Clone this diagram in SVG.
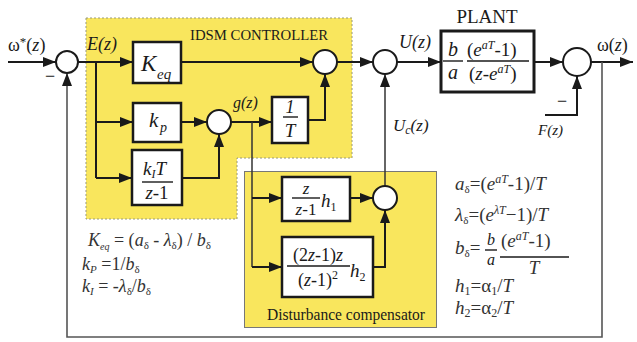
<svg xmlns="http://www.w3.org/2000/svg" width="637" height="342" viewBox="0 0 637 342" font-family="'Liberation Serif', 'DejaVu Serif', serif">
<defs>
<style>
text, tspan {font-family:'Liberation Serif','DejaVu Serif',serif}
text{fill:#1a1a1a}
.it{font-style:italic}
.box{fill:#fff;stroke:#1a1a1a;stroke-width:2.5}
.sum{fill:#fff;stroke:#1a1a1a;stroke-width:2}
.ln{fill:none;stroke:#1a1a1a;stroke-width:2}
.thin{fill:none;stroke:#333;stroke-width:1.5}
.fb{fill:none;stroke:#555;stroke-width:1.6}
.frac{stroke:#1a1a1a;stroke-width:1.4}
.f{font-size:18px;fill:#333}
.fr{font-size:19px;fill:#333}
</style>
<marker id="ah" markerWidth="13" markerHeight="10" refX="13" refY="5" orient="auto" markerUnits="userSpaceOnUse">
<path d="M0,0 L13,5 L0,10 z" fill="#1a1a1a"/>
</marker>
</defs>
<rect width="637" height="342" fill="#fff"/>

<g id="idsm-region">
<polygon points="86,18 352,18 352,158 237,158 237,219 86,219" fill="#f9e65d" stroke="#9a9a7a" stroke-width="1" stroke-dasharray="2,2"/>
<text x="190" y="40" font-size="15" textLength="138" lengthAdjust="spacingAndGlyphs">IDSM CONTROLLER</text>
</g>

<g id="dc-region">
<rect x="244.5" y="171.5" width="192" height="156" fill="#f9e65d" stroke="#777" stroke-width="1"/>
<text x="267" y="320" font-size="16" textLength="158" lengthAdjust="spacingAndGlyphs">Disturbance compensator</text>
</g>

<g id="connectors">
<path class="ln" d="M8,62 H56" marker-end="url(#ah)"/>
<path class="ln" d="M78,62 H133" marker-end="url(#ah)"/>
<path class="ln" d="M96,62 V178"/>
<path class="ln" d="M96,122 H133" marker-end="url(#ah)"/>
<path class="ln" d="M96,178 H132" marker-end="url(#ah)"/>
<path class="ln" d="M181,62 H313" marker-end="url(#ah)"/>
<path class="ln" d="M181,122 H207" marker-end="url(#ah)"/>
<path class="ln" d="M182,178 H219 V134" marker-end="url(#ah)"/>
<path class="ln" d="M231,122 H272" marker-end="url(#ah)"/>
<path class="ln" d="M308,120 H325 V74" marker-end="url(#ah)"/>
<path class="ln" d="M337,62 H373" marker-end="url(#ah)"/>
<path class="ln" d="M397,62 H441" marker-end="url(#ah)"/>
<path class="ln" d="M534,62 H563" marker-end="url(#ah)"/>
<path class="ln" d="M591,62 H633" marker-end="url(#ah)"/>
<path class="fb" d="M602,62 V337 H67 V73" marker-end="url(#ah)"/>
<path class="ln" d="M545,115 H577 V76" marker-end="url(#ah)"/>
<path class="thin" d="M252,122 V267"/>
<path class="ln" d="M252,198 H282" marker-end="url(#ah)"/>
<path class="ln" d="M252,267 H282" marker-end="url(#ah)"/>
<path class="ln" d="M350,198 H373" marker-end="url(#ah)"/>
<path class="ln" d="M373,267 H385 V210" marker-end="url(#ah)"/>
<path class="thin" d="M385,186 V74" marker-end="url(#ah)"/>
</g>

<g id="sum1">
<circle class="sum" cx="67" cy="62" r="11"/>
<text x="45" y="82" font-size="18">−</text>
</g>
<g id="sum2"><circle class="sum" cx="219" cy="122" r="12"/></g>
<g id="sum3"><circle class="sum" cx="325" cy="62" r="12"/></g>
<g id="sum4"><circle class="sum" cx="385" cy="62" r="12"/></g>
<g id="sum5">
<circle class="sum" cx="577" cy="62" r="14"/>
<text x="557" y="107" font-size="18">−</text>
</g>
<g id="sum6"><circle class="sum" cx="385" cy="198" r="12"/></g>

<g id="keq">
<rect class="box" x="133" y="42" width="48" height="41"/>
<text class="it" x="141" y="71" font-size="23">K</text>
<text class="it" x="157" y="79" font-size="15">eq</text>
</g>

<g id="kp">
<rect class="box" x="133" y="103" width="48" height="39"/>
<text class="it" x="149" y="127" font-size="21">k</text>
<text class="it" x="160" y="132" font-size="14">p</text>
</g>

<g id="ki">
<rect class="box" x="132" y="150" width="50" height="55"/>
<text class="it" x="143" y="175" font-size="19">k<tspan font-size="12" dy="3">I</tspan><tspan dy="-3">T</tspan></text>
<line class="frac" x1="142" y1="182" x2="173" y2="182"/>
<text x="157" y="199" font-size="19" text-anchor="middle"><tspan class="it">z</tspan>-1</text>
</g>

<g id="inv-t">
<rect class="box" x="272" y="97" width="36" height="46"/>
<text class="it" x="290" y="113" font-size="18" text-anchor="middle">1</text>
<line class="frac" x1="283" y1="117" x2="298" y2="117"/>
<text class="it" x="290" y="137" font-size="19" text-anchor="middle">T</text>
</g>

<g id="plant">
<text x="487" y="23" font-size="19" text-anchor="middle">PLANT</text>
<rect x="441" y="31" width="93" height="61" fill="#fff" stroke="#1a1a1a" stroke-width="3"/>
<text class="it" x="453" y="56" font-size="20" text-anchor="middle">b</text>
<line class="frac" x1="443" y1="61" x2="463" y2="61"/>
<text class="it" x="453" y="79" font-size="20" text-anchor="middle">a</text>
<text x="467" y="56" font-size="19">(<tspan class="it">e</tspan><tspan class="it" font-size="12" dy="-7">aT</tspan><tspan dy="7">-1)</tspan></text>
<line class="frac" x1="467" y1="61" x2="529" y2="61"/>
<text x="469" y="80" font-size="19">(<tspan class="it">z</tspan>-<tspan class="it">e</tspan><tspan class="it" font-size="12" dy="-7">aT</tspan><tspan dy="7">)</tspan></text>
</g>

<g id="dc-h1">
<rect class="box" x="282" y="177" width="68" height="44"/>
<text class="it" x="306" y="194" font-size="17" text-anchor="middle">z</text>
<line class="frac" x1="292" y1="198" x2="320" y2="198"/>
<text x="306" y="215" font-size="17" text-anchor="middle"><tspan class="it">z</tspan>-1</text>
<text class="it" x="321" y="207" font-size="19">h<tspan font-size="12" dy="4" font-style="normal">1</tspan></text>
</g>

<g id="dc-h2">
<rect class="box" x="282" y="237" width="91" height="60"/>
<text x="318" y="261" font-size="18" text-anchor="middle">(2<tspan class="it">z</tspan>-1)<tspan class="it">z</tspan></text>
<line class="frac" x1="287" y1="266" x2="350" y2="266"/>
<text x="318" y="286" font-size="18" text-anchor="middle">(<tspan class="it">z</tspan>-1)<tspan font-size="12" dy="-7">2</tspan></text>
<text class="it" x="350" y="277" font-size="19">h<tspan font-size="12" dy="4" font-style="normal">2</tspan></text>
</g>

<g id="labels">
<text x="8" y="51" font-size="18">ω<tspan font-size="13" dy="-5">*</tspan><tspan dy="5">(</tspan><tspan class="it">z</tspan>)</text>
<text class="it" x="87" y="50" font-size="18" fill="#3a3000">E(z)</text>
<text class="it" x="233" y="108" font-size="16" fill="#3a3000">g(z)</text>
<text class="it" x="399" y="48" font-size="18">U(z)</text>
<text class="it" x="393" y="131" font-size="17">U<tspan font-size="12" dy="3">c</tspan><tspan dy="-3">(z)</tspan></text>
<text x="597" y="51" font-size="18">ω(<tspan class="it">z</tspan>)</text>
<text class="it" x="538" y="135" font-size="15">F(z)</text>
</g>

<g id="formulas-left">
<text class="f" x="88" y="246"><tspan class="it">K</tspan><tspan class="it" font-size="10" dy="4">eq</tspan><tspan dy="-4"> = (</tspan><tspan class="it">a</tspan><tspan font-size="11" dy="3">δ</tspan><tspan dy="-3"> - </tspan><tspan class="it">λ</tspan><tspan font-size="11" dy="3">δ</tspan><tspan dy="-3">) / </tspan><tspan class="it">b</tspan><tspan font-size="11" dy="3">δ</tspan></text>
<text class="f" x="82" y="270"><tspan class="it">k</tspan><tspan class="it" font-size="11" dy="3">P</tspan><tspan dy="-3"> =1/</tspan><tspan class="it">b</tspan><tspan font-size="11" dy="3">δ</tspan></text>
<text class="f" x="82" y="292"><tspan class="it">k</tspan><tspan class="it" font-size="11" dy="3">I</tspan><tspan dy="-3"> = -</tspan><tspan class="it">λ</tspan><tspan font-size="11" dy="3">δ</tspan><tspan dy="-3">/</tspan><tspan class="it">b</tspan><tspan font-size="11" dy="3">δ</tspan></text>
</g>

<g id="formulas-right">
<text class="fr" x="455" y="190"><tspan class="it">a</tspan><tspan font-size="11" dy="3">δ</tspan><tspan dy="-3">=(</tspan><tspan class="it">e</tspan><tspan class="it" font-size="12" dy="-7">aT</tspan><tspan dy="7">-1)/</tspan><tspan class="it">T</tspan></text>
<text class="fr" x="455" y="221"><tspan class="it">λ</tspan><tspan font-size="11" dy="3">δ</tspan><tspan dy="-3">=(</tspan><tspan class="it">e</tspan><tspan class="it" font-size="12" dy="-7">λT</tspan><tspan dy="7">−1)/</tspan><tspan class="it">T</tspan></text>
<text class="fr" x="455" y="254"><tspan class="it">b</tspan><tspan font-size="11" dy="3">δ</tspan><tspan dy="-3">=</tspan></text>
<text class="it" x="491" y="245" font-size="16" fill="#333" text-anchor="middle">b</text>
<line class="frac" x1="485" y1="250" x2="497" y2="250"/>
<text class="it" x="491" y="265" font-size="16" fill="#333" text-anchor="middle">a</text>
<text class="fr" x="501" y="247">(<tspan class="it">e</tspan><tspan class="it" font-size="12" dy="-7">aT</tspan><tspan dy="7">-1)</tspan></text>
<line class="frac" x1="500" y1="257" x2="569" y2="257"/>
<text class="fr it" x="534" y="274" text-anchor="middle">T</text>
<text class="fr" x="455" y="292"><tspan class="it">h</tspan><tspan font-size="12" dy="3">1</tspan><tspan dy="-3">=α</tspan><tspan font-size="12" dy="3">1</tspan><tspan dy="-3">/</tspan><tspan class="it">T</tspan></text>
<text class="fr" x="455" y="314"><tspan class="it">h</tspan><tspan font-size="12" dy="3">2</tspan><tspan dy="-3">=α</tspan><tspan font-size="12" dy="3">2</tspan><tspan dy="-3">/</tspan><tspan class="it">T</tspan></text>
</g>
</svg>
